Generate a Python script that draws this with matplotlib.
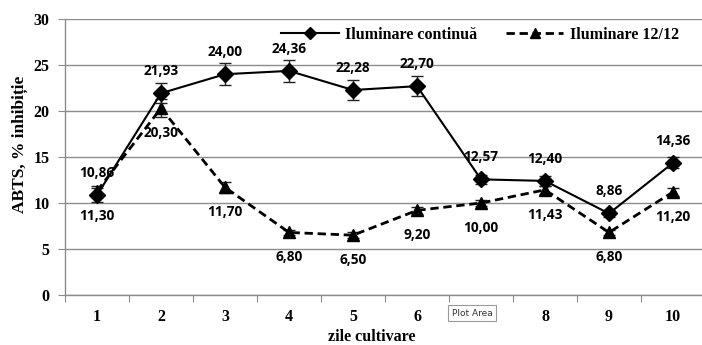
import matplotlib
matplotlib.use("Agg")
import matplotlib.pyplot as plt
from matplotlib.lines import Line2D

days = [1, 2, 3, 4, 5, 6, 7, 8, 9, 10]
tick_labels = ["1", "2", "3", "4", "5", "6", "7", "8", "9", "10"]
continua = [10.86, 21.93, 24.00, 24.36, 22.28, 22.70, 12.57, 12.40, 8.86, 14.36]
continua_err = [0.8, 1.1, 1.2, 1.2, 1.1, 1.1, 0.5, 0.5, 0.4, 0.6]
ilum1212 = [11.30, 20.30, 11.70, 6.80, 6.50, 9.20, 10.00, 11.43, 6.80, 11.20]
ilum1212_err = [0.5, 1.0, 0.6, 0.3, 0.3, 0.4, 0.3, 0.4, 0.3, 0.4]
cont_labels = ["10,86", "21,93", "24,00", "24,36", "22,28", "22,70", "12,57", "12,40", "8,86", "14,36"]
l1212_labels = ["11,30", "20,30", "11,70", "6,80", "6,50", "9,20", "10,00", "11,43", "6,80", "11,20"]

W, H = 702, 345
fig = plt.figure(figsize=(W / 100, H / 100), dpi=100)
ax = fig.add_axes([65 / W, (H - 295) / H, 640 / W, 276 / H])

grid_c = "#8c8c8c"
ax.set_xlim(0.5, 10.5)
ax.set_ylim(0, 30)
ax.set_yticks([0, 5, 10, 15, 20, 25, 30])
ax.yaxis.grid(True, color=grid_c, lw=1)
ax.set_axisbelow(True)
for s in ["top", "right"]:
    ax.spines[s].set_visible(False)
for s in ["left", "bottom"]:
    ax.spines[s].set_color(grid_c)
    ax.spines[s].set_linewidth(1)

# major ticks at category boundaries, labels at centres
ax.set_xticks([x + 0.5 for x in range(0, 11)])
ax.set_xticklabels([])
ax.set_xticks(days, minor=True)
ax.set_xticklabels(tick_labels, minor=True)
ax.tick_params(axis="x", which="major", length=5, color=grid_c, direction="out")
ax.tick_params(axis="x", which="minor", length=0, pad=10)
ax.tick_params(axis="y", length=5, color=grid_c, pad=6)
for lab in ax.get_xticklabels(minor=True) + ax.get_yticklabels():
    lab.set_fontfamily("Liberation Serif")
    lab.set_fontweight("bold")
    lab.set_fontsize(11.5)

ax.errorbar(days, continua, yerr=continua_err, color="black", lw=1.5,
            marker="D", ms=8, ecolor="#222222", elinewidth=1, capsize=4, capthick=1, zorder=4)
ax.errorbar(days, ilum1212, yerr=ilum1212_err, color="black", lw=2, ls=(0, (3, 1.7)),
            marker="^", ms=9, ecolor="#222222", elinewidth=1, capsize=4, capthick=1, zorder=3)

lfont = dict(family="Open Sans", weight="bold", size=9.8)
for x, y, t in zip(days, continua, cont_labels):
    ax.annotate(t, (x, y), xytext=(0, 16), textcoords="offset points",
                ha="center", va="center", **lfont, zorder=6)
for x, y, t in zip(days, ilum1212, l1212_labels):
    ax.annotate(t, (x, y), xytext=(0, -18), textcoords="offset points",
                ha="center", va="center", **lfont, zorder=6)

handles = [
    Line2D([], [], color="black", lw=1.5, marker="D", ms=6),
    Line2D([], [], color="black", lw=2, ls=(0, (3, 1.7)), marker="^", ms=7),
]
leg = ax.legend(handles, ["Iluminare continuă", "Iluminare 12/12"], loc="center",
                bbox_to_anchor=((480 - 65) / 640, (295 - 35) / 276), ncol=2,
                frameon=False, handlelength=3.6, columnspacing=1.8, handletextpad=0.4,
                prop=dict(family="Liberation Serif", weight="bold", size=11.5))

fig.text(372 / W, 1 - 337 / H, "zile cultivare", ha="center", va="center",
         family="Liberation Serif", weight="bold", size=11.5)
fig.text(20 / W, 1 - 144 / H, "ABTS, % inhibiție", ha="center", va="center", rotation=90,
         family="Liberation Serif", weight="bold", size=12.5)

fig.text(472 / W, 1 - 313 / H, "Plot Area", ha="center", va="center",
         family="DejaVu Sans", size=6.5, color="#333333",
         bbox=dict(boxstyle="square,pad=0.35", fc="white", ec="#9a9a9a", lw=0.8), zorder=10)

fig.savefig("out.png", dpi=100)
